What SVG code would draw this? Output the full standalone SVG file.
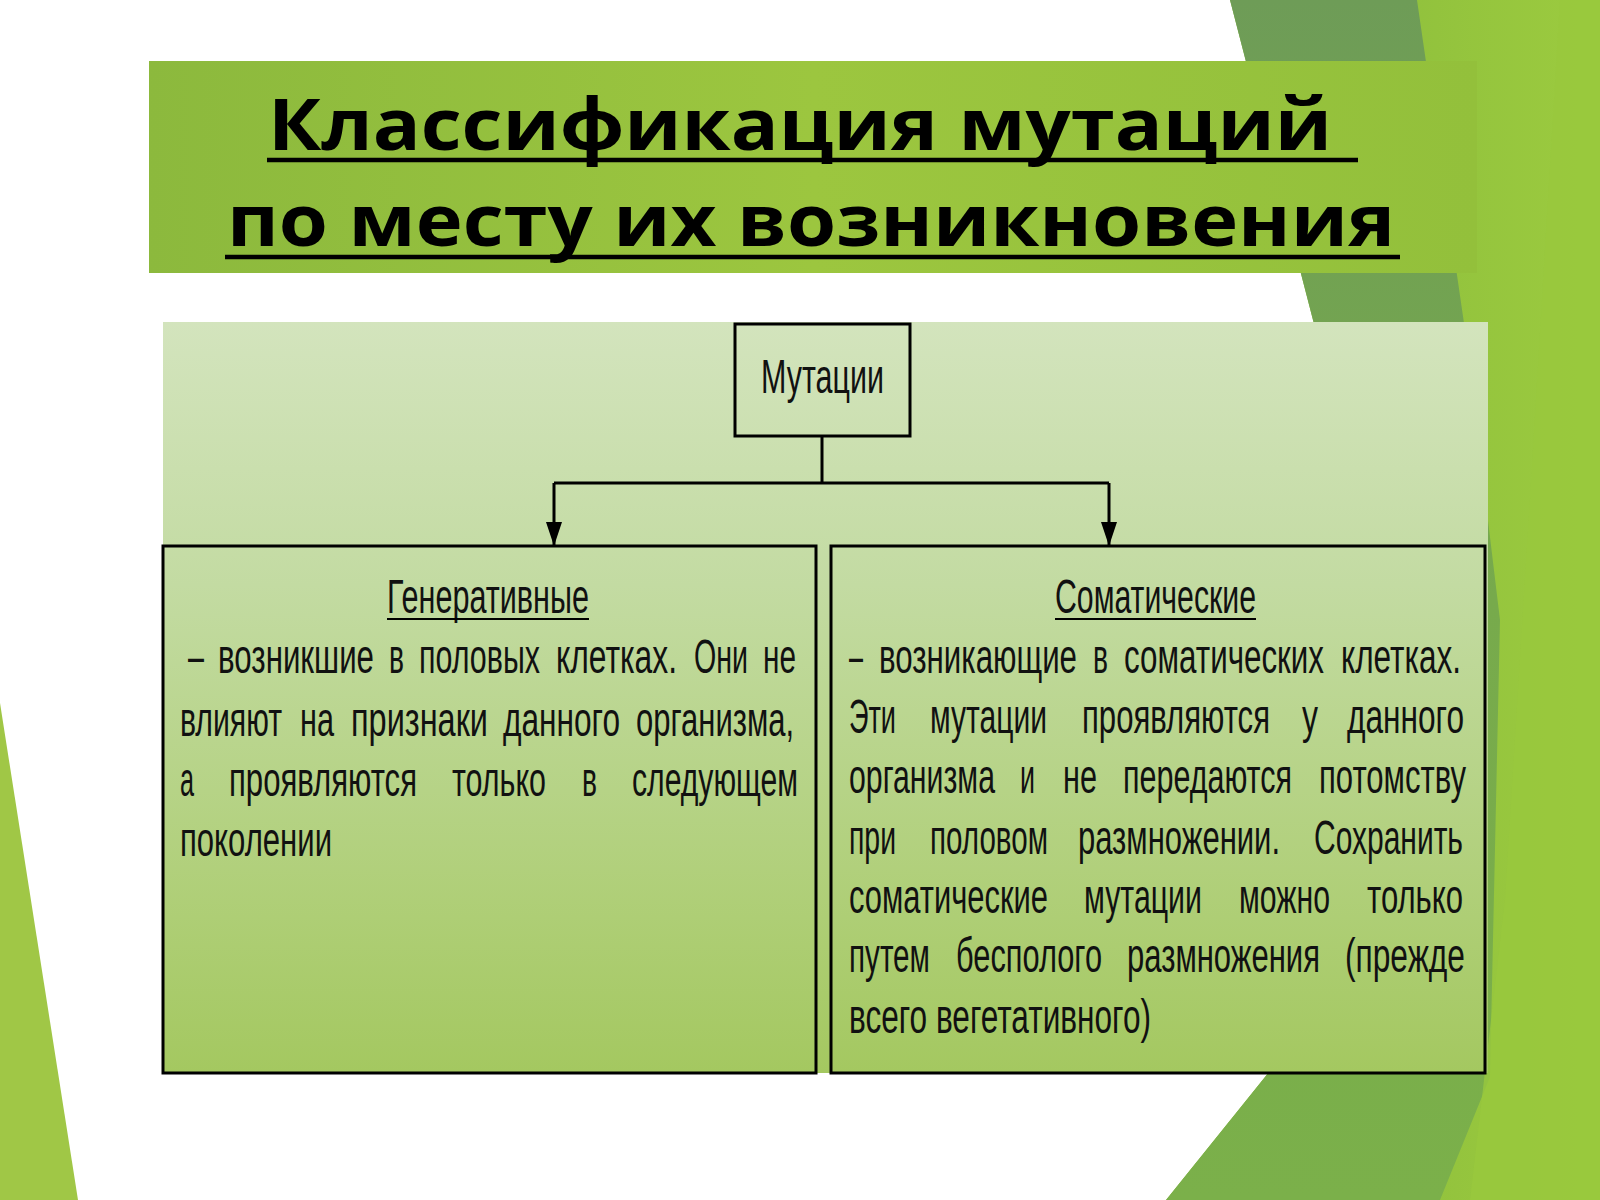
<svg xmlns="http://www.w3.org/2000/svg" width="1600" height="1200" viewBox="0 0 1600 1200">
<defs>
<linearGradient id="gTitle" x1="0" y1="0" x2="1" y2="0">
<stop offset="0" stop-color="#8cb93d"/><stop offset="0.5" stop-color="#9cc63f"/><stop offset="1" stop-color="#93c03b"/>
</linearGradient>
<linearGradient id="gPanel" x1="0" y1="0" x2="0" y2="1">
<stop offset="0" stop-color="#d3e4bd"/><stop offset="0.35" stop-color="#c3dba2"/><stop offset="1" stop-color="#a4c860"/>
</linearGradient>
<linearGradient id="gDark" x1="0" y1="0" x2="0" y2="1">
<stop offset="0" stop-color="#6e9c57"/><stop offset="0.5" stop-color="#77aa4c"/><stop offset="1" stop-color="#7bb04a"/>
</linearGradient>
<linearGradient id="gRight" x1="0" y1="0" x2="1" y2="0">
<stop offset="0" stop-color="#84b63a"/><stop offset="1" stop-color="#9ccb3f"/>
</linearGradient>
<marker id="arr" viewBox="0 0 24 16" refX="24" refY="8" markerWidth="24" markerHeight="16" markerUnits="userSpaceOnUse" orient="auto">
<path d="M0,0 L24,8 L0,16 Z" fill="#000"/>
</marker>
<style>
.title{font-family:"Open Sans","Noto Sans","DejaVu Sans",sans-serif;font-weight:700;font-size:71px;fill:#000}
.t{font-family:"Liberation Sans",Arial,sans-serif;font-size:44px;fill:#111}
.box{fill:none;stroke:#000;stroke-width:3}
.ln{stroke:#000;stroke-width:3;fill:none}
.ul{stroke:#000;stroke-width:2}
</style>
</defs>
<g id="background">
<rect x="0" y="0" width="1600" height="1200" fill="#ffffff"/>
<polygon points="1230,0 1600,0 1600,1200 1166,1200 1265,1077 1450,846 1313,320" fill="url(#gRight)"/>
<polygon points="1230,0 1417,0 1465,330 1500,620 1490,1077 1440,1200 1166,1200 1265,1077 1450,846 1313,320" fill="url(#gDark)"/>
<polygon points="1560,0 1600,0 1600,1200 1470,1200 1505,900 1530,500" fill="#98c83d" opacity="0.8"/>
<polygon points="0,703 78,1200 0,1200" fill="#a0c746"/>
</g>
<g id="title">
<rect x="149" y="61" width="1328" height="212" fill="url(#gTitle)"/>
<text class="title" x="268" y="150" textLength="1064" lengthAdjust="spacingAndGlyphs">Классификация мутаций</text>
<text class="title" x="227" y="246" textLength="1168" lengthAdjust="spacingAndGlyphs">по месту их возникновения</text>
<line x1="267" y1="160" x2="1358" y2="160" stroke="#000" stroke-width="4.5"/>
<line x1="225" y1="257" x2="1400" y2="257" stroke="#000" stroke-width="4.5"/>
</g>
<rect id="panel" x="163" y="322" width="1325" height="751" fill="url(#gPanel)"/>
<g id="connectors">
<line class="ln" x1="822" y1="436" x2="822" y2="483"/>
<line class="ln" x1="554" y1="483" x2="1109" y2="483"/>
<line class="ln" x1="554" y1="483" x2="554" y2="546" marker-end="url(#arr)"/>
<line class="ln" x1="1109" y1="483" x2="1109" y2="546" marker-end="url(#arr)"/>
</g>
<g id="node-mutations">
<rect class="box" x="735" y="324" width="175" height="112"/>
<text class="t" transform="translate(0,393) scale(0.75,1.1)" x="1014.67" y="0" textLength="164" lengthAdjust="spacingAndGlyphs">Мутации</text>
</g>
<g id="node-generative">
<rect class="box" x="163" y="546" width="653" height="527"/>
<text class="t" transform="translate(0,613) scale(0.75,1.1)" x="516" y="0" textLength="269.33" lengthAdjust="spacingAndGlyphs">Генеративные</text>
<line class="ul" x1="387" y1="619" x2="589" y2="619"/>
<text class="t" transform="translate(0,673) scale(0.75,1.1)"><tspan x="250.67" y="0" textLength="21.33" lengthAdjust="spacingAndGlyphs">–</tspan> <tspan x="290.67" textLength="208" lengthAdjust="spacingAndGlyphs">возникшие</tspan> <tspan x="518.67" textLength="20" lengthAdjust="spacingAndGlyphs">в</tspan> <tspan x="558.67" textLength="161.33" lengthAdjust="spacingAndGlyphs">половых</tspan> <tspan x="741.33" textLength="161.33" lengthAdjust="spacingAndGlyphs">клетках.</tspan> <tspan x="925.33" textLength="72" lengthAdjust="spacingAndGlyphs">Они</tspan> <tspan x="1017.33" textLength="44" lengthAdjust="spacingAndGlyphs">не</tspan></text>
<text class="t" transform="translate(0,736) scale(0.75,1.1)"><tspan x="240" y="0" textLength="136" lengthAdjust="spacingAndGlyphs">влияют</tspan> <tspan x="400" textLength="45.33" lengthAdjust="spacingAndGlyphs">на</tspan> <tspan x="468" textLength="182.67" lengthAdjust="spacingAndGlyphs">признаки</tspan> <tspan x="670.67" textLength="156" lengthAdjust="spacingAndGlyphs">данного</tspan> <tspan x="848" textLength="210.67" lengthAdjust="spacingAndGlyphs">организма,</tspan></text>
<text class="t" transform="translate(0,796) scale(0.75,1.1)"><tspan x="240" y="0" textLength="18.67" lengthAdjust="spacingAndGlyphs">а</tspan> <tspan x="305.33" textLength="250.67" lengthAdjust="spacingAndGlyphs">проявляются</tspan> <tspan x="602.67" textLength="125.33" lengthAdjust="spacingAndGlyphs">только</tspan> <tspan x="776" textLength="20" lengthAdjust="spacingAndGlyphs">в</tspan> <tspan x="842.67" textLength="221.33" lengthAdjust="spacingAndGlyphs">следующем</tspan></text>
<text class="t" transform="translate(0,856) scale(0.75,1.1)" x="240" y="0" textLength="202.67" lengthAdjust="spacingAndGlyphs">поколении</text>
</g>
<g id="node-somatic">
<rect class="box" x="831" y="546" width="654" height="527"/>
<text class="t" transform="translate(0,613) scale(0.75,1.1)" x="1406.67" y="0" textLength="268" lengthAdjust="spacingAndGlyphs">Соматические</text>
<line class="ul" x1="1055" y1="619" x2="1256" y2="619"/>
<text class="t" transform="translate(0,673) scale(0.75,1.1)"><tspan x="1132" y="0" textLength="18.67" lengthAdjust="spacingAndGlyphs">–</tspan> <tspan x="1172" textLength="264" lengthAdjust="spacingAndGlyphs">возникающие</tspan> <tspan x="1457.33" textLength="20" lengthAdjust="spacingAndGlyphs">в</tspan> <tspan x="1498.67" textLength="266.67" lengthAdjust="spacingAndGlyphs">соматических</tspan> <tspan x="1788" textLength="160" lengthAdjust="spacingAndGlyphs">клетках.</tspan></text>
<text class="t" transform="translate(0,733) scale(0.75,1.1)"><tspan x="1132" y="0" textLength="62.67" lengthAdjust="spacingAndGlyphs">Эти</tspan> <tspan x="1240" textLength="156" lengthAdjust="spacingAndGlyphs">мутации</tspan> <tspan x="1442.67" textLength="250.67" lengthAdjust="spacingAndGlyphs">проявляются</tspan> <tspan x="1736" textLength="21.33" lengthAdjust="spacingAndGlyphs">у</tspan> <tspan x="1796" textLength="156" lengthAdjust="spacingAndGlyphs">данного</tspan></text>
<text class="t" transform="translate(0,793) scale(0.75,1.1)"><tspan x="1132" y="0" textLength="194.67" lengthAdjust="spacingAndGlyphs">организма</tspan> <tspan x="1360" textLength="20" lengthAdjust="spacingAndGlyphs">и</tspan> <tspan x="1417.33" textLength="45.33" lengthAdjust="spacingAndGlyphs">не</tspan> <tspan x="1497.33" textLength="225.33" lengthAdjust="spacingAndGlyphs">передаются</tspan> <tspan x="1758.67" textLength="196" lengthAdjust="spacingAndGlyphs">потомству</tspan></text>
<text class="t" transform="translate(0,854) scale(0.75,1.1)"><tspan x="1132" y="0" textLength="62.67" lengthAdjust="spacingAndGlyphs">при</tspan> <tspan x="1240" textLength="157.33" lengthAdjust="spacingAndGlyphs">половом</tspan> <tspan x="1437.33" textLength="269.33" lengthAdjust="spacingAndGlyphs">размножении.</tspan> <tspan x="1752" textLength="198.67" lengthAdjust="spacingAndGlyphs">Сохранить</tspan></text>
<text class="t" transform="translate(0,913) scale(0.75,1.1)"><tspan x="1132" y="0" textLength="265.33" lengthAdjust="spacingAndGlyphs">соматические</tspan> <tspan x="1445.33" textLength="157.33" lengthAdjust="spacingAndGlyphs">мутации</tspan> <tspan x="1652" textLength="121.33" lengthAdjust="spacingAndGlyphs">можно</tspan> <tspan x="1822.67" textLength="128" lengthAdjust="spacingAndGlyphs">только</tspan></text>
<text class="t" transform="translate(0,972) scale(0.75,1.1)"><tspan x="1132" y="0" textLength="108" lengthAdjust="spacingAndGlyphs">путем</tspan> <tspan x="1274.67" textLength="194.67" lengthAdjust="spacingAndGlyphs">бесполого</tspan> <tspan x="1502.67" textLength="257.33" lengthAdjust="spacingAndGlyphs">размножения</tspan> <tspan x="1793.33" textLength="160" lengthAdjust="spacingAndGlyphs">(прежде</tspan></text>
<text class="t" transform="translate(0,1033) scale(0.75,1.1)" x="1132" y="0" textLength="402.67" lengthAdjust="spacingAndGlyphs">всего вегетативного)</text>
</g>
</svg>
